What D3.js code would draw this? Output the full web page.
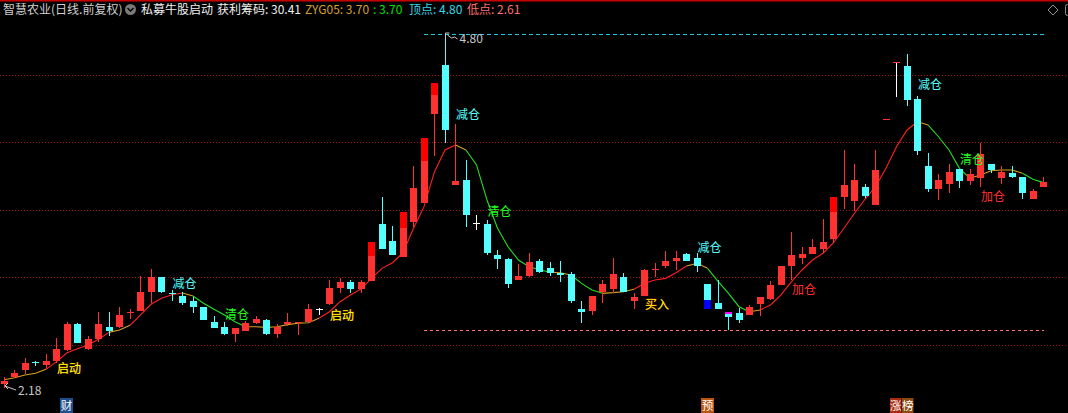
<!DOCTYPE html>
<html><head><meta charset="utf-8">
<script src="https://cdn.jsdelivr.net/npm/d3@7"></script>
<style>html,body{margin:0;padding:0;background:#000;overflow:hidden}</style>
</head><body>
<script>
// ---- data ----
const openP  = [2.21,2.26,2.31,2.372,2.35,2.38,2.46,2.65,2.47,2.54, 2.63,2.63,2.738,2.75,2.89,3.00,2.885,2.86,2.82,2.78,
                2.67,2.63,2.58,2.60,2.66,2.68,2.58,2.652,2.664,2.67, 2.763,2.80,2.915,2.96,2.91,2.97,3.39,3.27,3.15,3.41,
                3.55,4.21,4.57,3.684,3.72,3.40,3.39,3.163,3.13,2.98, 3.007,3.12,3.067,3.032,3.02,2.763,2.75,2.89,2.91,3.00,
                2.822,2.86,3.055,3.08,3.12,3.17,3.14,2.95,2.81,2.74, 2.73,2.72,2.80,2.84,2.943,3.08,3.143,3.17,3.207,3.28,
                3.595,3.563,3.67,3.533,4.17,4.59,4.563,4.32,3.82,3.652, 3.689,3.80,3.711,3.733,3.837,3.733,3.77,3.741,3.578,3.667];
const highP  = [2.26,2.31,2.40,2.38,2.43,2.55,2.67,2.66,2.56,2.74, 2.74,2.78,2.765,3.007,3.06,3.00,2.905,2.89,2.85,2.78,
                2.71,2.667,2.62,2.675,2.71,2.69,2.65,2.735,2.67,2.80, 2.773,2.98,2.995,2.978,2.975,3.26,3.595,3.378,3.48,3.82,
                4.03,4.44,4.80,4.13,3.867,3.459,3.42,3.20,3.14,3.10, 3.18,3.13,3.111,3.12,3.037,2.825,2.86,2.978,3.14,3.03,
                2.88,3.06,3.104,3.19,3.19,3.18,3.178,2.95,2.978,2.74, 2.77,2.793,2.852,2.973,3.08,3.336,3.224,3.28,3.43,3.593,
                3.94,3.837,3.689,3.94,4.17,4.59,4.652,4.341,3.919,3.763, 3.837,3.80,3.80,3.993,3.837,3.822,3.822,3.741,3.652,3.741];
const lowP   = [2.18,2.25,2.28,2.34,2.32,2.36,2.45,2.51,2.46,2.52, 2.56,2.62,2.69,2.75,2.805,2.885,2.825,2.79,2.735,2.68,
                2.625,2.57,2.52,2.60,2.65,2.568,2.55,2.637,2.57,2.67, 2.716,2.79,2.884,2.884,2.88,2.97,3.21,3.165,3.15,3.372,
                3.548,3.90,3.995,3.684,3.373,3.348,3.163,3.06,2.916,2.98, 2.998,3.03,3.007,2.965,2.805,2.662,2.72,2.81,2.88,2.886,
                2.763,2.86,3.002,3.064,3.052,3.119,3.04,2.763,2.763,2.61, 2.662,2.719,2.713,2.83,2.943,2.978,3.10,3.17,3.176,3.254,
                3.504,3.489,3.583,3.533,4.17,4.335,4.267,3.904,3.63,3.57, 3.622,3.659,3.681,3.667,3.77,3.69,3.733,3.578,3.578,3.667];
const closeP = [2.23,2.29,2.36,2.368,2.38,2.47,2.65,2.51,2.54,2.65, 2.60,2.72,2.742,2.89,3.00,2.89,2.88,2.805,2.78,2.68,
                2.625,2.58,2.62,2.66,2.69,2.58,2.63,2.667,2.667,2.76, 2.763,2.92,2.96,2.91,2.96,3.26,3.21,3.165,3.48,3.66,
                4.03,4.44,4.09,3.711,3.46,3.40,3.18,3.136,2.95,3.007, 3.11,3.04,3.032,3.015,2.82,2.743,2.86,2.95,3.025,2.89,
                2.852,3.05,3.058,3.12,3.14,3.12,3.08,2.763,2.763,2.706, 2.68,2.775,2.85,2.94,3.08,3.163,3.17,3.222,3.259,3.593,
                3.68,3.72,3.60,3.793,4.17,4.59,4.311,3.933,3.652,3.719, 3.778,3.711,3.763,3.911,3.793,3.778,3.741,3.622,3.637,3.704];
// smoothed trend line (indicator)
const trendLine = [2.239,2.254,2.274,2.287,2.316,2.373,2.439,2.469,2.496,2.539, 2.590,2.607,2.642,2.719,2.798,2.842,2.869,2.881,2.859,2.805,
                   2.761,2.719,2.669,2.632,2.632,2.627,2.632,2.647,2.657,2.661, 2.694,2.743,2.817,2.867,2.911,2.990,3.064,3.106,3.180,3.361,
                   3.521,3.780,3.941,3.978,3.941,3.830,3.570,3.361,3.224,3.126, 3.076,3.054,3.035,3.032,3.015,2.953,2.904,2.879,2.884,2.891,
                   2.909,2.953,2.978,2.990,3.032,3.081,3.101,3.064,2.967,2.879, 2.780,2.743,2.756,2.793,2.867,2.965,3.052,3.126,3.176,3.254,
                   3.361,3.472,3.576,3.669,3.805,3.965,4.089,4.150,4.126,4.039, 3.941,3.805,3.731,3.756,3.787,3.793,3.793,3.768,3.724,3.699];
// state of each line segment: 1 up, 0 flat, -1 down
const trendState = [0,0,0,0, 1,1,1,1,1,1, 0,0, 1,1,1,1,1, 0, -1,-1,-1,-1,-1, 0,0,0,0,0,0,0,
                    1,1,1,1,1,1,1,1,1,1,1,1,1, 0, -1,-1,-1,-1,-1,-1,-1,-1, 0,0, -1,-1,-1, 0,0,0,
                    1,1,1,1,1, 0,0, -1,-1,-1,-1, 0, 1,1,1,1,1,1,1,1,1,1,1,1,1,1,1, 0, -1,-1,-1,-1, 0,0,0,0,0, -1,-1];
const gridTicks = [2.5,3.0,3.5,4.0,4.5];
const signalText  = ["启动","减仓","清仓","启动","减仓","清仓","买入","减仓","加仓","减仓","清仓","加仓"];
const signalIdx   = [5,16,21,31,43,46,61,66,75,87,91,93];
const signalPrice = [2.289,2.919,2.689,2.681,4.170,3.452,2.763,3.185,2.874,4.393,3.837,3.563];
const overlayIdx  = [35,38,40,41,79,67,69];
const overlayHi   = [3.26,3.48,4.03,4.44,3.593,2.83,2.74];
const overlayLo   = [3.156,3.363,3.859,4.348,3.481,2.763,2.724];
const overlayKind = ["limit","limit","limit","limit","limit","blue","magenta"];
const badgeText = ["财","预","涨","榜"];
const badgeIdx  = [6,67,85,86];
const topPrice = 4.80, lowLevel = 2.61, levelStart = 40;
const firstLow = 2.18;

// ---- chart ----
const W=1068,H=413;
const x=d3.scaleLinear().domain([0,99]).range([4,1043.5]);
const y=d3.scaleLinear().domain([3,4]).range([277,142]);
const svg=d3.select("body").append("svg").attr("width",W).attr("height",H)
  .style("display","block").style("background","#000");
const FONT='"Noto Sans CJK SC","Noto Sans",sans-serif';

svg.append("rect").attr("x",0).attr("y",0).attr("width",W).attr("height",1.5).attr("fill","#c80000");

// grid
const grid=svg.append("g").call(d3.axisLeft(y).tickValues(gridTicks).tickSize(-W).tickFormat(""));
grid.select(".domain").remove();
grid.selectAll(".tick line").attr("stroke","#a01010").attr("stroke-dasharray","1,2").attr("shape-rendering","crispEdges");

// level lines
svg.append("line").attr("x1",x(levelStart)).attr("x2",x(99)).attr("y1",Math.round(y(topPrice))+0.5).attr("y2",Math.round(y(topPrice))+0.5)
  .attr("stroke","#22c8d8").attr("stroke-dasharray","4,3").attr("shape-rendering","crispEdges");
svg.append("line").attr("x1",x(levelStart)).attr("x2",x(99)).attr("y1",Math.round(y(lowLevel))+0.5).attr("y2",Math.round(y(lowLevel))+0.5)
  .attr("stroke","#ff7070").attr("stroke-dasharray","3,3").attr("shape-rendering","crispEdges");

// trend line
const RED="#ff3232", CYAN="#54ffff", WHITE="#ffffff";
const stateColor={"1":"#ff2020","0":"#d8a020","-1":"#22e022"};
const lineGen=d3.line().x(d=>x(d)).y(d=>y(trendLine[d]));
let runs=[]; let cur=null;
trendState.forEach((s,i)=>{ if(!cur||cur.s!==s){cur={s,pts:[i]};runs.push(cur);} cur.pts.push(i+1); });
svg.append("g").selectAll("path").data(runs).join("path")
  .attr("d",r=>lineGen(r.pts)).attr("fill","none").attr("stroke",r=>stateColor[r.s]).attr("stroke-width",1.1);

// candles
const data=d3.range(openP.length).map(i=>({i,o:openP[i],h:highP[i],l:lowP[i],c:closeP[i]}));
function bodyColor(d){ if(d.c>d.o) return RED; if(d.c<d.o) return CYAN; return d.o===d.h?RED:WHITE; }
function wickColor(d){ if(d.c!==d.o) return bodyColor(d); return WHITE; }
const cg=svg.append("g").attr("shape-rendering","crispEdges");
cg.selectAll("rect.w").data(data.filter(d=>d.h>d.l)).join("rect").attr("class","w")
  .attr("x",d=>Math.floor(x(d.i))).attr("width",1)
  .attr("y",d=>Math.round(y(d.h))).attr("height",d=>Math.max(1,Math.round(y(d.l))-Math.round(y(d.h))))
  .attr("fill",wickColor);
cg.selectAll("rect.b").data(data).join("rect").attr("class","b")
  .attr("x",d=>Math.round(x(d.i)-3.5)).attr("width",7)
  .attr("y",d=>Math.round(y(Math.max(d.o,d.c))))
  .attr("height",d=>Math.max(1,Math.round(y(Math.min(d.o,d.c)))-Math.round(y(Math.max(d.o,d.c)))))
  .attr("fill",bodyColor);
const ovColor={limit:"#ff0000",blue:"#0000ff",magenta:"#ff00ff"};
cg.selectAll("rect.o").data(overlayIdx.map((v,k)=>({i:v,hi:overlayHi[k],lo:overlayLo[k],k:overlayKind[k]}))).join("rect").attr("class","o")
  .attr("x",d=>Math.round(x(d.i)-3.5)).attr("width",7)
  .attr("y",d=>Math.round(y(d.hi))).attr("height",d=>Math.max(1,Math.round(y(d.lo))-Math.round(y(d.hi))))
  .attr("fill",d=>ovColor[d.k]);

// signal labels
const sigFill={"启动":"#ffff00","减仓":"#54ffff","清仓":"#22ff22","加仓":"#ff3030","买入":"#ffff00"};
const sigStroke={"启动":"#e07000","买入":"#ff2020"};
svg.append("g").selectAll("text").data(signalText.map((t,k)=>({t,i:signalIdx[k],p:signalPrice[k]}))).join("text")
  .attr("x",d=>x(d.i)+0.5).attr("y",d=>y(d.p)).text(d=>d.t)
  .attr("font-family",FONT).attr("font-size",12).attr("fill",d=>sigFill[d.t])
  .attr("stroke",d=>sigStroke[d.t]||"none").attr("stroke-width",0.3).attr("paint-order","stroke");

// high / low markers
const hx=Math.floor(x(42))+0.5, hy=Math.round(y(topPrice));
svg.append("path").attr("d",`M${hx},${hy-1}V${hy+5}M${hx},${hy-1}H${hx+4}M${hx+2},${hy+1}L${hx+6},${hy+4}L${hx+9},${hy+3}L${hx+12},${hy+5}`)
  .attr("stroke","#c8c8c8").attr("fill","none").attr("stroke-width",1);
svg.append("text").attr("x",hx+14).attr("y",hy+9).text(topPrice.toFixed(2))
  .attr("font-family",FONT).attr("font-size",12).attr("fill","#c8c8c8");
const ly=Math.round(y(firstLow));
svg.append("path").attr("d",`M5,${ly-2}L16,${ly+2}M5,${ly-2}L8,${ly-5}M5,${ly-2}L8,${ly+1}`)
  .attr("stroke","#c8c8c8").attr("fill","none");
svg.append("text").attr("x",18).attr("y",ly+7).text(firstLow.toFixed(2))
  .attr("font-family",FONT).attr("font-size",12).attr("fill","#c8c8c8");

// badges
const badgeFill={"财":"#1d4f8e","预":"#b8560e","涨":"#b02a10","榜":"#8a4a12"};
const bg=svg.append("g");
badgeText.forEach((t,k)=>{
  const bx = t==="榜" ? Math.round(x(badgeIdx[k-1]))+5 : Math.round(x(badgeIdx[k]))-7;
  bg.append("rect").attr("x",bx).attr("y",398).attr("width",t==="涨"||t==="榜"?11.5:13).attr("height",15).attr("fill",badgeFill[t]);
  bg.append("text").attr("x",bx+(t==="涨"||t==="榜"?5.75:6.5)).attr("y",410).attr("text-anchor","middle").text(t)
    .attr("font-family",FONT).attr("font-size",11.5).attr("fill","#ffffff");
});

// header
const hdr=svg.append("g").attr("font-family",FONT).attr("font-size",12);
hdr.append("text").attr("x",3).attr("y",14).attr("fill","#d0d0d0").text("智慧农业(日线.前复权)");
hdr.append("circle").attr("cx",130.5).attr("cy",9.5).attr("r",5.5).attr("fill","#7a7a7a");
hdr.append("path").attr("d","M127.5,8L130.5,11L133.5,8").attr("stroke","#000").attr("stroke-width",1.4).attr("fill","none");
hdr.append("text").attr("x",141).attr("y",14).attr("fill","#f0f0f0").text("私募牛股启动");
hdr.append("text").attr("x",217).attr("y",14).attr("fill","#f0f0f0").text("获利筹码: 30.41");
hdr.append("text").attr("x",305).attr("y",14).attr("fill","#d8a030").text("ZYG05: 3.70");
hdr.append("text").attr("x",373).attr("y",14).attr("fill","#00e000").text(": 3.70");
hdr.append("text").attr("x",409).attr("y",14).attr("fill","#30d8e8").text("顶点: 4.80");
hdr.append("text").attr("x",467).attr("y",14).attr("fill","#ff7070").text("低点: 2.61");
svg.append("path").attr("d","M1053,5L1058,10L1053,15L1048,10Z").attr("fill","none").attr("stroke","#909090");
svg.append("rect").attr("x",1065.5).attr("y",4.5).attr("width",6).attr("height",11).attr("rx",2).attr("fill","none").attr("stroke","#909090");
</script>
</body></html>
